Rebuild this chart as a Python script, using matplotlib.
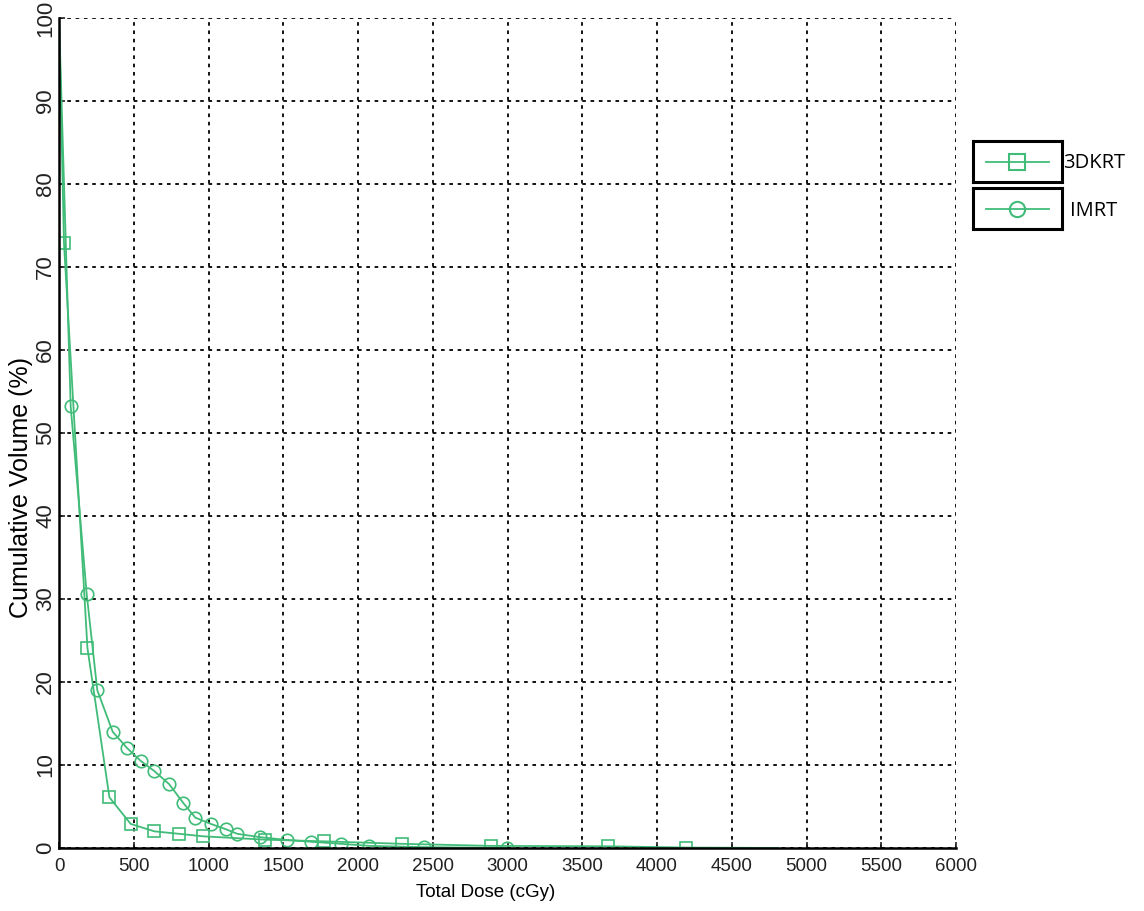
import matplotlib
matplotlib.use('Agg')
import matplotlib.pyplot as plt
from matplotlib.lines import Line2D

plt.rcParams['font.family'] = ['Liberation Sans', 'DejaVu Sans']

# dose (cGy) / cumulative volume (%)
dose_3d = [0, 33, 190, 337, 479, 638, 805, 965, 1378, 1770, 2292, 2887, 3675, 4194, 4810]
vol_3d = [100, 72.9, 24.1, 6.1, 2.9, 2.0, 1.7, 1.4, 1.0, 0.8, 0.5, 0.25, 0.2, 0.05, 0]
marks_3d = [1, 2, 3, 4, 5, 6, 7, 8, 9, 10, 11, 12, 13]

dose_im = [0, 78, 185, 256, 359, 457, 546, 635, 736, 832, 912, 1015, 1117, 1193,
           1345, 1527, 1683, 1884, 2075, 2441, 2994]
vol_im = [100, 53.2, 30.6, 19.0, 14.0, 12.0, 10.5, 9.3, 7.7, 5.4, 3.65, 2.9, 2.25, 1.7,
          1.3, 0.96, 0.75, 0.5, 0.25, 0.1, 0.0]
marks_im = list(range(1, len(dose_im)))

xticks = list(range(0, 6001, 500))
yticks = list(range(0, 101, 10))

green = '#40bc78'

fig = plt.figure(figsize=(11.44, 9.11), dpi=100)
ax = fig.add_axes([0.0516, 0.0692, 0.7841, 0.911])

ax.plot(dose_3d, vol_3d, color=green, lw=1.3, marker='s', markevery=marks_3d,
        markersize=8.5, markerfacecolor='none', markeredgecolor=green, markeredgewidth=1.2)
ax.plot(dose_im, vol_im, color=green, lw=1.3, marker='o', markevery=marks_im,
        markersize=9, markerfacecolor='none', markeredgecolor=green, markeredgewidth=1.2)

ax.set_xlim(0, 6000)
ax.set_ylim(0, 100)
ax.set_xticks(xticks)
ax.set_yticks(yticks)
ax.set_xticklabels([str(t) for t in xticks], fontsize=13.5)
ax.set_yticklabels([str(t) for t in yticks], fontsize=16, rotation=90, va='center')
ax.tick_params(direction='in', length=4, width=1.2, colors='#222222')
ax.tick_params(axis='x', pad=7)
ax.tick_params(axis='y', pad=2)
ax.grid(True, color='k', linestyle=(0, (2, 2.6)), linewidth=1.3)
for s in ['top', 'right']:
    ax.spines[s].set_visible(False)
for s in ['left', 'bottom']:
    ax.spines[s].set_linewidth(1.8)
    ax.spines[s].set_zorder(5)
ax.set_xlabel('Total Dose (cGy)', fontsize=13.5)
ax.xaxis.set_label_coords(0.476, -0.0434)
ax.set_ylabel('Cumulative Volume (%)', fontsize=18)
ax.yaxis.set_label_coords(-0.029, 0.434)

# legend: two separate framed boxes, labels outside
entries = [('3DKRT', 's', 0.800, 0.9292, 0.821), ('IMRT', 'o', 0.7486, 0.9353, 0.768)]
for label, mk, yb, xt, yt in entries:
    lax = fig.add_axes([0.8505, yb, 0.0778, 0.045])
    lax.set_xlim(0, 1)
    lax.set_ylim(0, 1)
    lax.set_xticks([])
    lax.set_yticks([])
    for s in lax.spines.values():
        s.set_linewidth(2.2)
        s.set_color('k')
    lax.add_line(Line2D([0.15, 0.85], [0.5, 0.5], color=green, lw=1.3))
    lax.plot([0.5], [0.5], marker=mk, markersize=11, markerfacecolor='none',
             markeredgecolor=green, markeredgewidth=1.5)
    fig.text(xt, yt, label, fontsize=14.5, va='center', ha='left',
             family=['Open Sans', 'DejaVu Sans'])

fig.savefig('out.png', dpi=100)
